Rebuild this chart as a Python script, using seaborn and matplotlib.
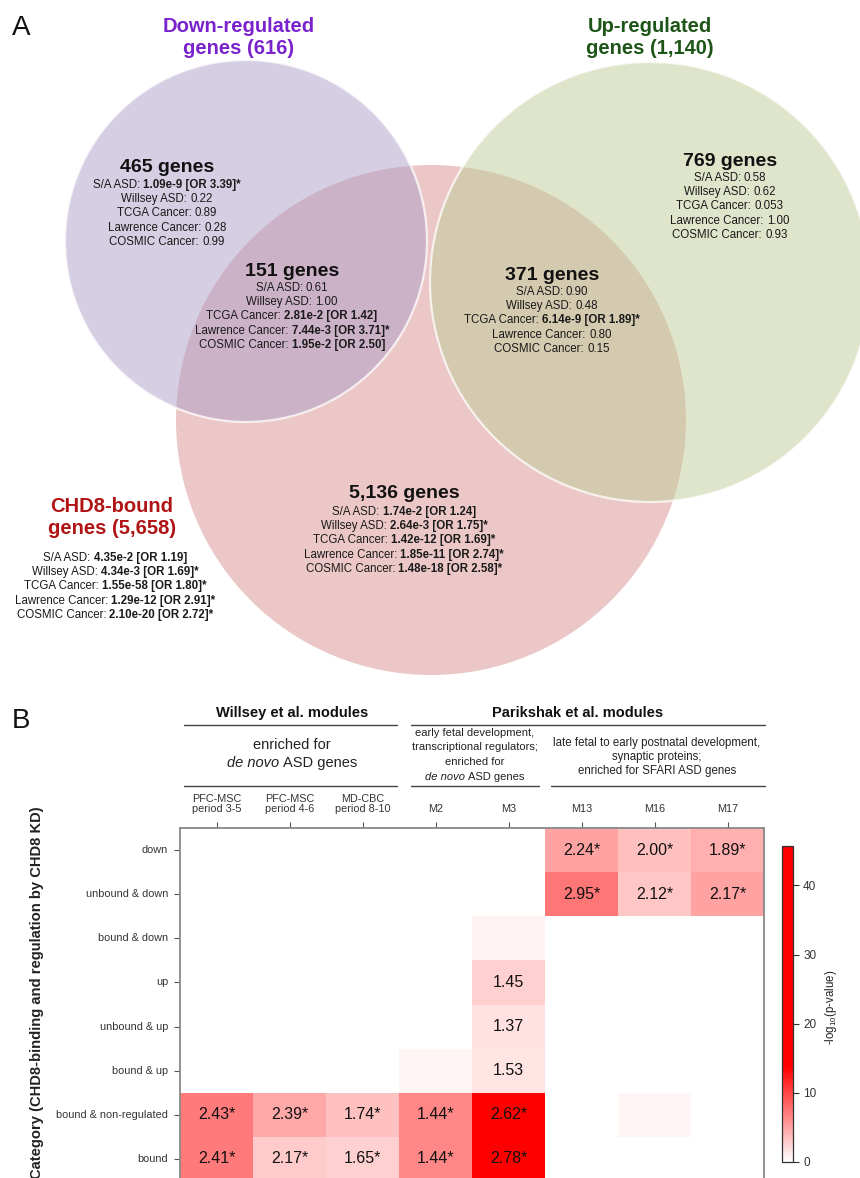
import numpy as np
import pandas as pd
import matplotlib
matplotlib.use("Agg")
import matplotlib.pyplot as plt
import seaborn as sns
from matplotlib.patches import Circle
from matplotlib.colors import LinearSegmentedColormap
from matplotlib.transforms import offset_copy

sns.set_theme(style="white")
plt.rcParams["font.family"] = ["Liberation Sans", "DejaVu Sans"]
plt.rcParams["mathtext.default"] = "regular"

# ---- panel A: Venn data ----
set_titles = ["Down-regulated\ngenes (616)", "Up-regulated\ngenes (1,140)", "CHD8-bound\ngenes (5,658)"]
set_colors = ["#7a22cc", "#1e5518", "#b01414"]
stat_names = ["S/A ASD", "Willsey ASD", "TCGA Cancer", "Lawrence Cancer", "COSMIC Cancer"]
region_counts = ["465 genes", "769 genes", "151 genes", "371 genes", "5,136 genes", ""]
down_only = ["1.09e-9 [OR 3.39]*", "0.22", "0.89", "0.28", "0.99"]
up_only = ["0.58", "0.62", "0.053", "1.00", "0.93"]
down_bound = ["0.61", "1.00", "2.81e-2 [OR 1.42]", "7.44e-3 [OR 3.71]*", "1.95e-2 [OR 2.50]"]
up_bound = ["0.90", "0.48", "6.14e-9 [OR 1.89]*", "0.80", "0.15"]
bound_only = ["1.74e-2 [OR 1.24]", "2.64e-3 [OR 1.75]*", "1.42e-12 [OR 1.69]*", "1.85e-11 [OR 2.74]*", "1.48e-18 [OR 2.58]*"]
bound_all = ["4.35e-2 [OR 1.19]", "4.34e-3 [OR 1.69]*", "1.55e-58 [OR 1.80]*", "1.29e-12 [OR 2.91]*", "2.10e-20 [OR 2.72]*"]
region_stats = [down_only, up_only, down_bound, up_bound, bound_only, bound_all]

# ---- panel B: heatmap data ----
modules = ["PFC-MSC\nperiod 3-5", "PFC-MSC\nperiod 4-6", "MD-CBC\nperiod 8-10", "M2", "M3", "M13", "M16", "M17"]
categories = ["down", "unbound & down", "bound & down", "up", "unbound & up",
              "bound & up", "bound & non-regulated", "bound"]
nan = np.nan
neglog_p = [
    [nan, nan, nan, nan, nan, 5.1, 3.5, 4.3],
    [nan, nan, nan, nan, nan, 7.4, 3.2, 5.0],
    [nan, nan, nan, nan, 0.8, nan, nan, nan],
    [nan, nan, nan, nan, 2.5, nan, nan, nan],
    [nan, nan, nan, nan, 1.7, nan, nan, nan],
    [nan, nan, nan, 0.7, 1.6, nan, nan, nan],
    [7.3, 4.7, 3.5, 6.5, 30.0, nan, 0.7, nan],
    [7.3, 3.0, 2.5, 6.5, 45.0, nan, nan, nan],
]
odds_ratio = [
    ["", "", "", "", "", "2.24*", "2.00*", "1.89*"],
    ["", "", "", "", "", "2.95*", "2.12*", "2.17*"],
    ["", "", "", "", "", "", "", ""],
    ["", "", "", "", "1.45", "", "", ""],
    ["", "", "", "", "1.37", "", "", ""],
    ["", "", "", "", "1.53", "", "", ""],
    ["2.43*", "2.39*", "1.74*", "1.44*", "2.62*", "", "", ""],
    ["2.41*", "2.17*", "1.65*", "1.44*", "2.78*", "", "", ""],
]

W, H = 860, 1178
fig = plt.figure(figsize=(W / 100, H / 100), dpi=100)

# overlay axes in pixel coordinates for the Venn and header text
ov = fig.add_axes([0, 0, 1, 1])
ov.set_xlim(0, W)
ov.set_ylim(H, 0)
ov.axis("off")
renderer = fig.canvas.get_renderer()


def mixed_line(x, y, parts, size, color="#1a1a1a"):
    # parts: list of (string, props); centred on x as a whole
    pieces, widths = [], []
    for s, kw in parts:
        t = ov.text(x, y, s, fontsize=size, ha="left", va="center", color=color, **kw)
        pieces.append(t)
        widths.append(t.get_window_extent(renderer).width)
    gap = size * 100 / 72 * 0.28
    dx = -(sum(widths) + gap * (len(parts) - 1)) / 2
    for t, w in zip(pieces, widths):
        t.set_transform(offset_copy(ov.transData, fig=fig, x=dx, y=0, units="dots"))
        dx += w + gap


# circles
circles = [((246, 241), 181, (175, 159, 199)),
           ((650, 282), 220, (191, 205, 153))]
ov.add_patch(Circle((431, 420), 255, facecolor="#ebc7c7", edgecolor="none"))
for c, r, col in circles:
    rgb = tuple(v / 255 for v in col)
    ov.add_patch(Circle(c, r, facecolor=rgb + (0.5,), edgecolor=(1, 1, 1, 0.75), lw=1.6))

ov.text(12, 28, "A", fontsize=20, ha="left", va="center", color="#111")
ov.text(12, 721, "B", fontsize=20, ha="left", va="center", color="#111")

title_pos = [(239, 37), (650, 37), (112, 518)]
for (x, y), s, col in zip(title_pos, set_titles, set_colors):
    ov.text(x, y, s, fontsize=14.5, fontweight="bold", color=col,
            ha="center", va="center", linespacing=1.2)

region_pos = [(167, 168, 185), (730, 161, 178), (292, 271, 288),
              (552, 276, 292), (404, 494, 512), (115, None, 558)]
for (x, ty, sy), cnt, vals in zip(region_pos, region_counts, region_stats):
    if cnt:
        ov.text(x, ty, cnt, fontsize=14, fontweight="bold", color="#111",
                ha="center", va="center")
    for i, (nm, v) in enumerate(zip(stat_names, vals)):
        w = "bold" if "[OR" in v else "normal"
        mixed_line(x, sy + i * 14.2, [(nm + ":", {}), (v, {"fontweight": w})], 8.3)

# header of panel B
line_kw = dict(color="#444", lw=1)
ov.text(292, 713, "Willsey et al. modules", fontsize=10.5, fontweight="bold", ha="center", va="center", color="#111")
ov.text(578, 713, "Parikshak et al. modules", fontsize=10.5, fontweight="bold", ha="center", va="center", color="#111")
ov.plot([184, 397], [725, 725], **line_kw)
ov.plot([411, 765], [725, 725], **line_kw)
ov.plot([184, 397], [786, 786], **line_kw)
ov.plot([411, 539], [786, 786], **line_kw)
ov.plot([551, 765], [786, 786], **line_kw)

ov.text(292, 745, "enriched for", fontsize=10.5, ha="center", va="center", color="#222")
mixed_line(292, 763, [("de novo", {"style": "italic"}), ("ASD genes", {})], 10.5, color="#222")
ov.text(475, 733, "early fetal development,", fontsize=8, ha="center", va="center", color="#222")
ov.text(475, 747.5, "transcriptional regulators;", fontsize=8, ha="center", va="center", color="#222")
ov.text(475, 762, "enriched for", fontsize=8, ha="center", va="center", color="#222")
mixed_line(475, 777, [("de novo", {"style": "italic"}), ("ASD genes", {})], 8, color="#222")
ov.text(657, 744, "late fetal to early postnatal development,\nsynaptic proteins;\nenriched for SFARI ASD genes",
        fontsize=8.3, ha="center", va="top", color="#222", linespacing=1.2,
        transform=offset_copy(ov.transData, fig=fig, x=0, y=7, units="dots"))

ov.text(37, 993, "Category (CHD8-binding and regulation by CHD8 KD)", rotation=90,
        fontsize=10.6, fontweight="bold", ha="center", va="center", color="#222")
ov.text(831, 1007, "-log$_{10}$(p-value)", rotation=90, fontsize=8.3,
        ha="center", va="center", color="#222")

# heatmap
ax = fig.add_axes([180 / W, (H - 1181) / H, (764 - 180) / W, (1181 - 828) / H])
cax = fig.add_axes([782 / W, (H - 1162) / H, 11 / W, (1162 - 846) / H])
cmap = LinearSegmentedColormap.from_list("wr", [(0, "white"), (0.3, "red"), (1, "red")])
df = pd.DataFrame(neglog_p, index=categories, columns=modules)
annot = pd.DataFrame(odds_ratio, index=categories, columns=modules)
sns.heatmap(df, ax=ax, cmap=cmap, vmin=0, vmax=45.7, annot=annot, fmt="",
            annot_kws={"fontsize": 11.5, "color": "#111"}, cbar_ax=cax,
            cbar_kws={"ticks": [0, 10, 20, 30, 40]}, linewidths=0)
ax.set_xlabel("")
ax.set_ylabel("")
ax.xaxis.tick_top()
ax.tick_params(axis="x", top=True, bottom=False, length=4.3, width=0.8, color="#555",
               pad=6, labelsize=7.8, labelcolor="#333")
ax.tick_params(axis="y", left=True, length=4.3, width=0.8, color="#555",
               pad=4.3, labelsize=7.8, labelcolor="#333")
plt.setp(ax.get_xticklabels(), rotation=0, ha="center", linespacing=1.0)
plt.setp(ax.get_yticklabels(), rotation=0)
for s in ["left", "top", "right"]:
    ax.spines[s].set_visible(True)
    ax.spines[s].set_color("#888")
    ax.spines[s].set_linewidth(1.3)

cb = ax.collections[0].colorbar
cb.outline.set_linewidth(0.9)
cb.outline.set_edgecolor("#333")
cax.tick_params(length=4.3, width=0.8, color="#333", labelsize=8.5, labelcolor="#333", pad=3, right=True)

fig.savefig("out.png", dpi=100)
